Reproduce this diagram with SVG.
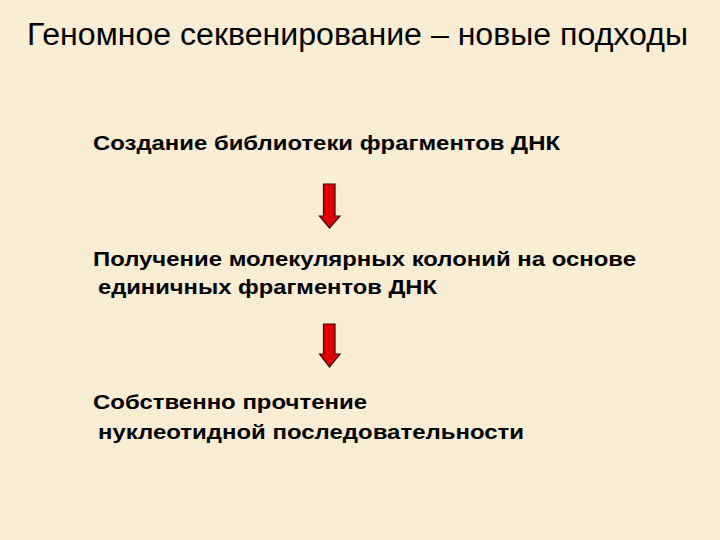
<svg xmlns="http://www.w3.org/2000/svg" width="720" height="540" viewBox="0 0 720 540">
<style>
.t{font-family:"Liberation Sans",Arial,sans-serif;fill:#000}
.b{font-weight:bold;font-size:20px}
.arr{fill:#E00000;stroke:#400000;stroke-width:1.2}
</style>
<defs>
<pattern id="tex" width="24" height="24" patternUnits="userSpaceOnUse">
<rect width="24" height="24" fill="#F9EDD4"/>
<circle cx="5" cy="6" r="1.2" fill="#F3E5C7"/>
<circle cx="17" cy="15" r="1.2" fill="#F3E5C7"/>
</pattern>
</defs>
<rect width="720" height="540" fill="url(#tex)"/>
<g id="title"><text class="t" x="27" y="45" font-size="31" textLength="661" lengthAdjust="spacingAndGlyphs">Геномное секвенирование – новые подходы</text></g>
<g id="step1"><text class="t b" x="93" y="150" textLength="467" lengthAdjust="spacingAndGlyphs">Создание библиотеки фрагментов ДНК</text></g>
<g id="step2"><text class="t b" x="93" y="266" textLength="543" lengthAdjust="spacingAndGlyphs">Получение молекулярных колоний на основе</text><text class="t b" x="98" y="294" textLength="339" lengthAdjust="spacingAndGlyphs">единичных фрагментов ДНК</text></g>
<g id="step3"><text class="t b" x="93" y="409" textLength="274" lengthAdjust="spacingAndGlyphs">Собственно прочтение</text><text class="t b" x="98" y="439" textLength="426" lengthAdjust="spacingAndGlyphs">нуклеотидной последовательности</text></g>
<g id="connectors">
<path class="arr" d="M323.5,184 H335 V216 H340 L329.5,228 L319.5,216 H323.5 Z"/>
<path class="arr" d="M323.5,324 H335 V354 H340 L329.5,367 L319.5,354 H323.5 Z"/>
</g>
</svg>
